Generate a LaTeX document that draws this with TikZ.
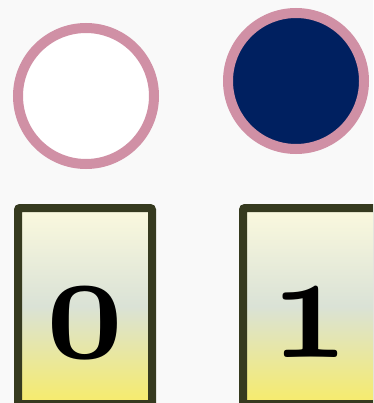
\documentclass[tikz,border=0pt]{standalone}
\usetikzlibrary{positioning}
\usepackage{xcolor}
\usepackage{graphicx}
\definecolor{ringColor}{RGB}{208,144,165}
\definecolor{onColor}{RGB}{0,32,96}
\definecolor{boxLine}{RGB}{54,58,31}
\definecolor{boxTop}{RGB}{251,249,222}
\definecolor{boxMid}{RGB}{218,226,214}
\definecolor{boxBot}{RGB}{247,236,106}
\definecolor{bgColor}{RGB}{249,249,249}
\newcommand{\bitdigit}[1]{\scalebox{13.4}[15.5]{\usefont{OML}{cmm}{b}{it}#1}}

\begin{document}
\begin{tikzpicture}[x=1pt, y=1pt,
        bit/.style={circle, draw=ringColor, line width=10pt, minimum size=136pt, inner sep=0pt},
        digit/.style={draw=boxLine, line width=8pt, rounded corners=2pt, minimum width=134pt, minimum height=196pt,
          inner sep=0pt, text height=103pt, text depth=0pt, top color=boxTop, bottom color=boxBot, middle color=boxMid},
        node distance=83pt
      ]
      \useasboundingbox (0,0) rectangle (373,-403);
      \fill[bgColor] (0,0) rectangle (373,-403);
      \clip (0,0) rectangle (373,-403);

      \node[bit, fill=white] (off) at (86,-96) {};
      \node[bit, fill=onColor] (on) at (296,-81) {};

      \node[digit] (zero) at (85,-306) {\bitdigit{0}};
      \node[digit, right=of zero] (one) {\bitdigit{1}};
    \end{tikzpicture}
\end{document}
